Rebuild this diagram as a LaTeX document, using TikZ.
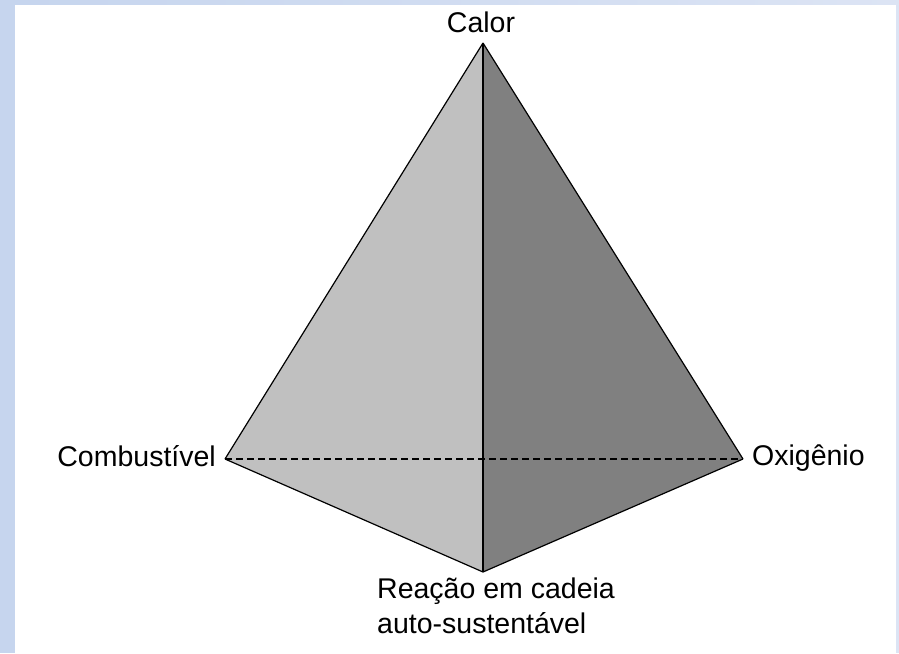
\documentclass[tikz,border=0pt]{standalone}
\usepackage{fontspec}
\setmainfont{Liberation Sans}
\usetikzlibrary{positioning}
\definecolor{bgblue}{rgb}{0.776, 0.835, 0.933}
\definecolor{bglight}{rgb}{0.863, 0.894, 0.957}
\definecolor{faceL}{rgb}{0.753, 0.753, 0.753}
\definecolor{faceR}{rgb}{0.502, 0.502, 0.502}

\begin{document}
\begin{tikzpicture} [x = 1pt, y = -1pt, font = \fontsize{28.5}{35}\selectfont,
    lbl/.style = {inner sep = 0pt},
    rim/.style = {draw = black, line width = 1.2pt, line join = miter}]
\useasboundingbox (0, 0) rectangle (899, 653);
\fill [bgblue] (0, 0) rectangle (899, 653);
\shade [left color = bgblue, right color = bglight] (15, 0) rectangle (899, 5);
\fill [bglight] (896, 5) rectangle (899, 653);
\fill [white] (15, 5) rectangle (896, 653);
\coordinate (calor) at (483, 43);
\coordinate (comb) at (225, 459);
\coordinate (oxi) at (743, 459);
\coordinate (reac) at (483, 572);
\fill [faceL] (calor) -- (comb) -- (reac) -- cycle;
\fill [faceR] (calor) -- (oxi) -- (reac) -- cycle;
\path [rim]
    (calor) edge (comb)
    (comb) edge (reac)
    (reac) edge (oxi)
    (oxi) edge (calor);
\draw [line width = 1.2pt, dash pattern = on 7pt off 4pt] (comb) -- (oxi);
\draw [line width = 1.8pt] (calor) -- (reac);
\node (lcalor) [lbl, anchor = base] at (481, 32) {Calor};
\node (lcomb) [lbl, anchor = base east] at (216, 466) {Combustível};
\node (loxi) [lbl, anchor = base west] at (752, 465) {Oxigênio};
\node (lreac) [lbl, anchor = base west, align = left] at (377, 633) {Reação em cadeia\\auto-sustentável};
\end{tikzpicture}
\end{document}
